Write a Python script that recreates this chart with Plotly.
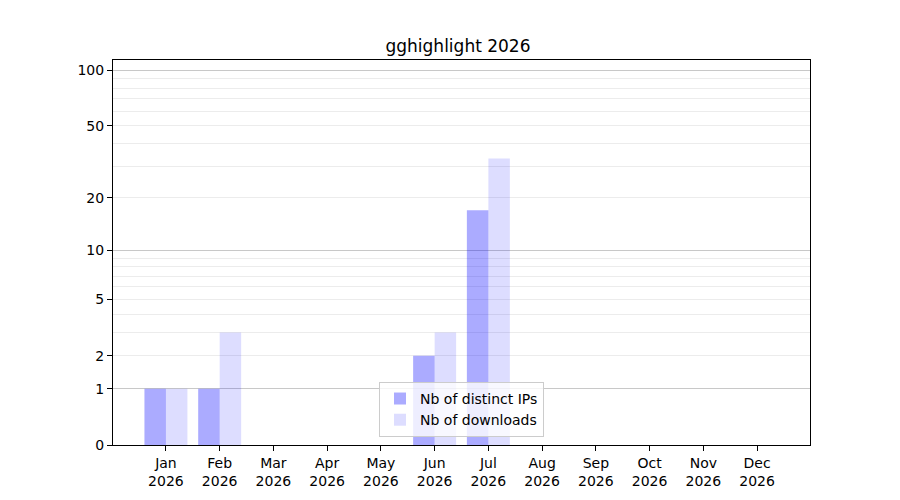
import plotly.graph_objects as go

months = ['Jan', 'Feb', 'Mar', 'Apr', 'May', 'Jun', 'Jul', 'Aug', 'Sep', 'Oct', 'Nov', 'Dec']
year = '2026'
distinct_ips = [1, 1, 0, 0, 0, 2, 17, 0, 0, 0, 0, 0]
downloads = [1, 3, 0, 0, 0, 3, 33, 0, 0, 0, 0, 0]

y_ticks = [0, 1, 2, 5, 10, 20, 50, 100]
major_grid = [1, 10, 100]
minor_grid = [2, 3, 4, 5, 6, 7, 8, 9, 20, 30, 40, 50, 60, 70, 80, 90]

cats = [f'{m}<br>{year}' for m in months]


# y axis is log10(1 + count), drawn on a log axis with values shifted by one
def shift(vals):
    return [v + 1 for v in vals]


fig = go.Figure()
fig.add_trace(go.Bar(x=cats, y=distinct_ips, base=1,
                     name='Nb of distinct IPs', marker_color='rgba(0,0,255,0.33)',
                     marker_line_width=0))
fig.add_trace(go.Bar(x=cats, y=downloads, base=1,
                     name='Nb of downloads', marker_color='rgba(0,0,255,0.135)',
                     marker_line_width=0))
# invisible trace so the overlay axis carrying the major grid is drawn
fig.add_trace(go.Scatter(x=[cats[0]], y=[1], yaxis='y2', mode='markers',
                         marker_opacity=0, showlegend=False, hoverinfo='skip'))

yrange = [0, 2.0588]
font = 'DejaVu Sans'

fig.update_layout(
    width=900, height=500,
    paper_bgcolor='white', plot_bgcolor='white',
    margin=dict(l=105, r=98, t=52, b=63),
    title=dict(text='gghighlight 2026', x=0.5, xanchor='center', y=0.924, yanchor='middle',
               font=dict(family=font, size=17, color='black')),
    font=dict(family=font, size=14, color='black'),
    barmode='group', bargap=0.2, bargroupgap=0,
    showlegend=True,
    legend=dict(x=0.5, y=0.021, xanchor='center', yanchor='bottom',
                bgcolor='rgba(255,255,255,0.8)', bordercolor='#cccccc', borderwidth=1,
                font=dict(family=font, size=14), tracegroupgap=0),
    xaxis=dict(type='category', range=[-0.985, 11.985], showgrid=False,
               ticks='outside', ticklen=5, tickcolor='black',
               showline=True, linecolor='black', linewidth=1, mirror=True,
               tickfont=dict(size=14)),
    yaxis=dict(type='log', range=yrange,
               tickvals=shift(y_ticks), ticktext=[str(t) for t in y_ticks],
               showgrid=False, zeroline=False,
               ticks='outside', ticklen=5, tickcolor='black',
               showline=True, linecolor='black', linewidth=1, mirror=True,
               tickfont=dict(size=14),
               minor=dict(tickvals=shift(minor_grid), showgrid=True,
                          gridcolor='#ececec', gridwidth=1, ticks='')),
    yaxis2=dict(type='log', range=yrange, overlaying='y', anchor='x',
                tickvals=shift(major_grid), showticklabels=False, ticks='',
                showgrid=True, gridcolor='#c8c8c8', gridwidth=1, zeroline=False,
                showline=False),
)

fig.write_html('out.html')
